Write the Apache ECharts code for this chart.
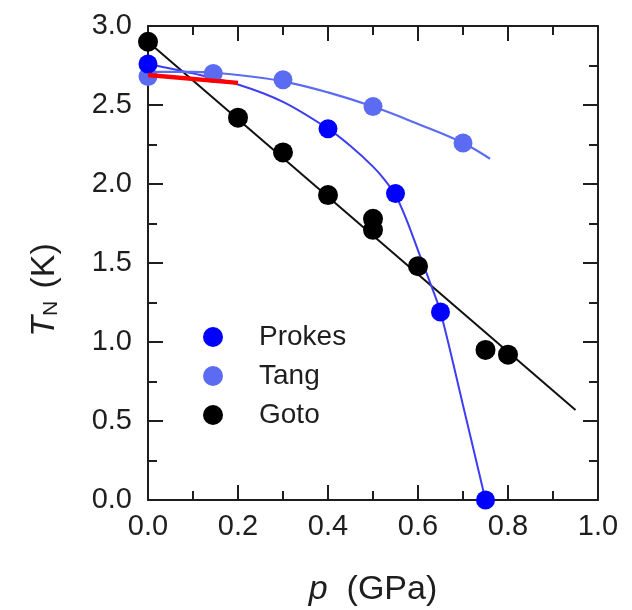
<!DOCTYPE html>
<html>
<head>
<meta charset="utf-8">
<script src="https://cdn.jsdelivr.net/npm/echarts@6/dist/echarts.min.js"></script>
<style>
  html, body { margin: 0; padding: 0; background: #fff; }
  #chart { width: 632px; height: 610px; }
</style>
</head>
<body>
<div id="chart"></div>
<script>
// Measured Néel temperature versus pressure
const prokesP = [0.00, 0.40, 0.55, 0.65, 0.75];
const prokesT = [2.76, 2.35, 1.94, 1.19, 0.00];

const tangP = [0.00, 0.145, 0.30, 0.50, 0.70];
const tangT = [2.68, 2.70, 2.66, 2.49, 2.26];

const gotoP = [0.00, 0.20, 0.30, 0.40, 0.50, 0.50, 0.60, 0.75, 0.80];
const gotoT = [2.90, 2.42, 2.20, 1.93, 1.78, 1.71, 1.48, 0.95, 0.92];

// Guide curves through each data set
const prokesFitP = [0.00, 0.10, 0.20, 0.30, 0.40, 0.45, 0.50, 0.525, 0.55, 0.575, 0.60, 0.625, 0.65, 0.70, 0.75];
const prokesFitT = [2.76, 2.70, 2.63, 2.52, 2.35, 2.24, 2.11, 2.03, 1.93, 1.77, 1.58, 1.39, 1.19, 0.60, 0.00];

const tangFitP = [0.00, 0.10, 0.20, 0.30, 0.40, 0.50, 0.60, 0.70, 0.76];
const tangFitT = [2.71, 2.71, 2.69, 2.65, 2.58, 2.49, 2.38, 2.26, 2.16];

const gotoFitP = [0.00, 0.95];
const gotoFitT = [2.90, 0.57];

// Initial slope near ambient pressure
const slopeP = [0.00, 0.20];
const slopeT = [2.69, 2.64];

const xTicks = { min: 0, max: 1, interval: 0.2 };
const yTicks = { min: 0, max: 3, interval: 0.5 };

const zip = (a, b) => a.map((v, i) => [v, b[i]]);

const FONT = "'Liberation Sans', Arial, sans-serif";
const INK = '#1e1e1e';
const C_PROKES = '#0000ff';
const C_PROKES_LINE = '#3d3df2';
const C_TANG = '#5b6cf2';
const C_GOTO = '#000000';
const C_SLOPE = '#ff0000';

function frameAxis(extra) {
  return Object.assign({
    type: 'value',
    axisLine: { show: true, onZero: false, lineStyle: { color: INK, width: 2 } },
    axisTick: { show: true, inside: true, length: 15, lineStyle: { color: INK, width: 2 } },
    minorTick: { show: true, splitNumber: 2, length: 9, lineStyle: { color: INK, width: 2 } },
    splitLine: { show: false },
    minorSplitLine: { show: false },
    axisLabel: { show: false }
  }, extra);
}

const chart = echarts.init(document.getElementById('chart'), null, { renderer: 'canvas' });

chart.setOption({
  animation: false,
  backgroundColor: '#ffffff',
  textStyle: { fontFamily: FONT },
  grid: { left: 148, right: 34, top: 26, bottom: 110, outerBoundsMode: 'none', containLabel: false },
  legend: {
    data: ['Prokes', 'Tang', 'Goto'],
    orient: 'vertical',
    left: 198,
    top: 318,
    padding: 5,
    icon: 'circle',
    itemWidth: 20,
    itemHeight: 20,
    itemGap: 11,
    textStyle: { fontFamily: FONT, fontSize: 28, color: INK, padding: [0, 0, 0, 31] }
  },
  xAxis: [
    frameAxis(Object.assign({
      position: 'bottom',
      name: '{i|p}  (GPa)',
      nameLocation: 'middle',
      nameGap: 73,
      nameTextStyle: {
        fontFamily: FONT, fontSize: 34, color: INK,
        rich: { i: { fontFamily: FONT, fontSize: 34, fontStyle: 'italic', color: INK } }
      },
      axisLabel: {
        show: true, margin: 12, fontSize: 29, color: INK, fontFamily: FONT,
        formatter: v => v.toFixed(1)
      }
    }, xTicks)),
    frameAxis(Object.assign({ position: 'top' }, xTicks))
  ],
  yAxis: [
    frameAxis(Object.assign({
      position: 'left',
      name: '{i|T}{s|N} (K)',
      nameLocation: 'middle',
      nameGap: 86,
      nameTextStyle: {
        fontFamily: FONT, fontSize: 34, color: INK,
        padding: [0, 54, 0, 0],
        rich: {
          i: { fontFamily: FONT, fontSize: 34, fontStyle: 'italic', color: INK },
          s: { fontFamily: FONT, fontSize: 21, color: INK, verticalAlign: 'bottom', padding: [12, 3, 0, 0] }
        }
      },
      axisLabel: {
        show: true, margin: 16, fontSize: 29, color: INK, fontFamily: FONT,
        formatter: v => v.toFixed(1)
      }
    }, yTicks)),
    frameAxis(Object.assign({ position: 'right' }, yTicks))
  ],
  series: [
    {
      name: 'Goto fit', type: 'line', data: zip(gotoFitP, gotoFitT),
      symbol: 'none', z: 2,
      lineStyle: { color: '#111111', width: 2 }
    },
    {
      name: 'Prokes fit', type: 'line', data: zip(prokesFitP, prokesFitT),
      symbol: 'none', smooth: 0.3, z: 2,
      lineStyle: { color: C_PROKES_LINE, width: 2 }
    },
    {
      name: 'Tang fit', type: 'line', data: zip(tangFitP, tangFitT),
      symbol: 'none', smooth: 0.4, z: 2,
      lineStyle: { color: C_TANG, width: 2.2 }
    },
    {
      name: 'Tang', type: 'scatter', data: zip(tangP, tangT),
      symbol: 'circle', symbolSize: 19, z: 3,
      itemStyle: { color: C_TANG, opacity: 1 }
    },
    {
      name: 'Prokes', type: 'scatter', data: zip(prokesP, prokesT),
      symbol: 'circle', symbolSize: 19, z: 4,
      itemStyle: { color: C_PROKES, opacity: 1 }
    },
    {
      name: 'Goto', type: 'scatter', data: zip(gotoP, gotoT),
      symbol: 'circle', symbolSize: 20, z: 5,
      itemStyle: { color: C_GOTO, opacity: 1 }
    },
    {
      name: 'Initial slope', type: 'line', data: zip(slopeP, slopeT),
      symbol: 'none', z: 6,
      lineStyle: { color: C_SLOPE, width: 4.5 }
    }
  ]
});
</script>
</body>
</html>
